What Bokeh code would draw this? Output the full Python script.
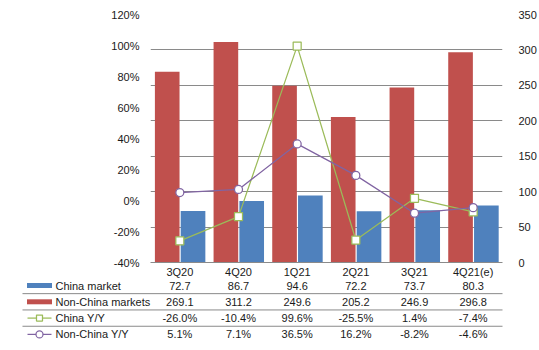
from bokeh.plotting import figure
from bokeh.models import (Range1d, LinearAxis, FactorRange, FixedTicker,
                          PrintfTickFormatter, Grid, ColumnDataSource)
from bokeh.transform import dodge
from bokeh.core.properties import value
from bokeh.embed import file_html
from bokeh.resources import INLINE

# ---------------- data ----------------
quarters = ["3Q20", "4Q20", "1Q21", "2Q21", "3Q21", "4Q21(e)"]
china_market = [72.7, 86.7, 94.6, 72.2, 73.7, 80.3]
non_china_markets = [269.1, 311.2, 249.6, 205.2, 246.9, 296.8]
china_yy = [-26.0, -10.4, 99.6, -25.5, 1.4, -7.4]
non_china_yy = [5.1, 7.1, 36.5, 16.2, -8.2, -4.6]
series_names = ["China market", "Non-China markets", "China Y/Y", "Non-China Y/Y"]
left_ticks = [-40, -20, 0, 20, 40, 60, 80, 100, 120]
right_ticks = [0, 50, 100, 150, 200, 250, 300, 350]

# ---------------- style ----------------
BLUE = "#4F81BD"
RED = "#C0504D"
GREEN = "#9BBB59"
PURPLE = "#8064A2"
GRID = "#8A8A8A"
TXT = "#1a1a1a"
FONT = "Liberation Sans"
FS = "11px"

W, H = 539, 350
LEFT, RIGHT, TOP = 150, 37, 14
FRAME_BOTTOM = 262
ROW0_PX = 285.0   # centre of first table row (page px)
ROW_H = 16.3      # table row pitch (px)

src = ColumnDataSource(dict(q=quarters, china=china_market, nonchina=non_china_markets,
                            cyy=china_yy, ncyy=non_china_yy))

p = figure(width=W, height=H, x_range=FactorRange(*quarters),
           y_range=Range1d(left_ticks[0], left_ticks[-1]),
           output_backend="svg", toolbar_location=None,
           min_border_left=LEFT, min_border_right=RIGHT, min_border_top=TOP,
           min_border_bottom=H - FRAME_BOTTOM)
p.extra_y_ranges = {
    "right": Range1d(right_ticks[0], right_ticks[-1]),
    # table rows: row r sits at ROW0_PX + r*ROW_H (below the frame)
    "table": Range1d((FRAME_BOTTOM - ROW0_PX) / ROW_H, (TOP - ROW0_PX) / ROW_H),
}
p.outline_line_color = None
p.background_fill_color = "white"
p.border_fill_color = "white"
p.xgrid.visible = False
p.ygrid.visible = False

# left axis (percent)
ya = p.yaxis[0]
ya.ticker = FixedTicker(ticks=left_ticks)
ya.formatter = PrintfTickFormatter(format="%d%%")
ya.axis_line_color = None
ya.major_tick_line_color = None
ya.minor_tick_line_color = None
ya.major_label_standoff = 5
ya.major_label_text_font = FONT
ya.major_label_text_font_size = FS
ya.major_label_text_color = TXT

# right axis (units)
ra = LinearAxis(y_range_name="right", ticker=FixedTicker(ticks=right_ticks))
ra.axis_line_color = None
ra.major_tick_line_color = None
ra.minor_tick_line_color = None
ra.major_label_standoff = 10
ra.major_label_text_font = FONT
ra.major_label_text_font_size = FS
ra.major_label_text_color = TXT
p.add_layout(ra, "right")

# gridlines follow the right axis
p.add_layout(Grid(dimension=1, ticker=FixedTicker(ticks=right_ticks), y_range_name="right",
                  grid_line_color=GRID, grid_line_width=1))

xa = p.xaxis[0]
xa.axis_line_color = GRID
xa.major_tick_line_color = None
xa.minor_tick_line_color = None
xa.major_label_standoff = -3
xa.major_label_text_font = FONT
xa.major_label_text_font_size = FS
xa.major_label_text_color = TXT

p.vbar(x=dodge("q", -0.215, range=p.x_range), top="nonchina", bottom=0, width=0.42,
       y_range_name="right", fill_color=RED, line_color=None, source=src)
p.vbar(x=dodge("q", 0.225, range=p.x_range), top="china", bottom=0, width=0.42,
       y_range_name="right", fill_color=BLUE, line_color=None, source=src)

p.line("q", "cyy", color=GREEN, line_width=1.25, source=src)
p.scatter("q", "cyy", marker="square", size=8, fill_color="white", line_color=GREEN,
          line_width=1.25, source=src)
p.line("q", "ncyy", color=PURPLE, line_width=1.25, source=src)
p.scatter("q", "ncyy", marker="circle", size=8, fill_color="white", line_color=PURPLE,
          line_width=1.25, source=src)

# ---------------- data table (drawn below the frame, unclipped) ----------------
CAT_W = (W - LEFT - RIGHT) / len(quarters)


def xpx(px):
    # page pixel -> synthetic categorical coordinate
    return (px - LEFT) / CAT_W


OV = dict(y_range_name="table", level="overlay")

rows = [
    [f"{v:.1f}" for v in china_market],
    [f"{v:.1f}" for v in non_china_markets],
    [f"{v:.1f}%" for v in china_yy],
    [f"{v:.1f}%" for v in non_china_yy],
]
xs, ys, labels = [], [], []
for r, row in enumerate(rows):
    for i, s in enumerate(row):
        xs.append(i + 0.5)
        ys.append(r)
        labels.append(s)
p.text(x=xs, y=ys, text=labels, text_align="center", text_baseline="middle",
       text_font=value(FONT), text_font_size=FS, text_color=TXT, **OV)

# series names
p.text(x=[xpx(55)] * 4, y=list(range(4)), text=series_names, text_align="left",
       text_baseline="middle", text_font=value(FONT), text_font_size=FS, text_color=TXT, **OV)

# separators
sep_y = [0.5, 1.5, 2.5]
p.segment(x0=[xpx(22)] * 3, x1=[len(quarters)] * 3, y0=sep_y, y1=sep_y,
          line_color=GRID, line_width=1, **OV)

# legend keys
kx = xpx(39)
p.rect(x=[kx, kx], y=[0, 1], width=25, height=5, width_units="screen", height_units="screen",
       fill_color=[BLUE, RED], line_color=None, **OV)
p.segment(x0=[xpx(27)] * 2, x1=[xpx(51)] * 2, y0=[2, 3], y1=[2, 3],
          line_color=[GREEN, PURPLE], line_width=1.25, **OV)
p.rect(x=[kx], y=[2], width=6, height=6, width_units="screen", height_units="screen",
       fill_color="white", line_color=GREEN, line_width=1.25, **OV)
p.ellipse(x=[kx], y=[3], width=7, height=7, width_units="screen", height_units="screen",
          fill_color="white", line_color=PURPLE, line_width=1.25, **OV)

open("out.html", "w").write(file_html(p, INLINE))
